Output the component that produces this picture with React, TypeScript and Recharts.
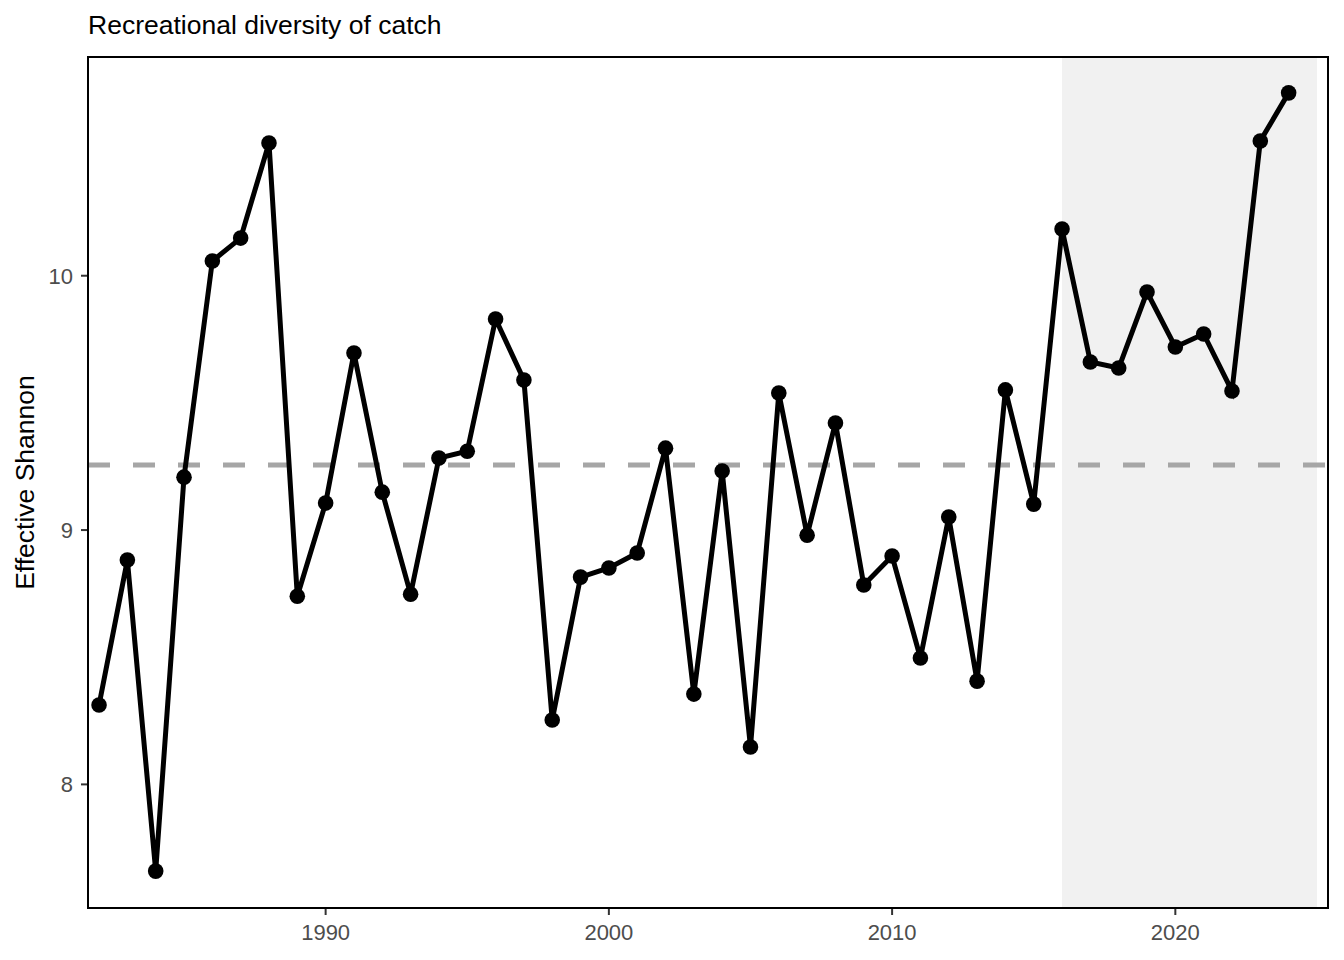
import React from 'react';
import { LineChart, Line, XAxis, YAxis, ReferenceArea, ReferenceLine, Label } from 'recharts';

const years = [
  1982, 1983, 1984, 1985, 1986, 1987, 1988, 1989, 1990, 1991, 1992, 1993, 1994, 1995,
  1996, 1997, 1998, 1999, 2000, 2001, 2002, 2003, 2004, 2005, 2006, 2007, 2008, 2009,
  2010, 2011, 2012, 2013, 2014, 2015, 2016, 2017, 2018, 2019, 2020, 2021, 2022, 2023, 2024,
];
const shannon = [
  8.312, 8.882, 7.659, 9.208, 10.058, 10.148, 10.522, 8.74, 9.106, 9.696, 9.149, 8.748, 9.283, 9.31,
  9.83, 9.59, 8.253, 8.815, 8.851, 8.91, 9.322, 8.355, 9.232, 8.147, 9.539, 8.98, 9.421, 8.784,
  8.898, 8.497, 9.051, 8.406, 9.551, 9.102, 10.184, 9.661, 9.637, 9.936, 9.72, 9.771, 9.547, 10.53, 10.719,
];
const meanShannon = 9.256;
const recentStart = 2016;
const recentEnd = 2025;
const xTicks = [1990, 2000, 2010, 2020];
const yTicks = [8, 9, 10];

const data = years.map((year, i) => ({ year, value: shannon[i] }));

const FONT = '"Liberation Sans", Arial, Helvetica, sans-serif';

export default function App() {
  return (
    <div style={{ position: 'absolute', left: 0, top: 0, width: 1344, height: 960, background: '#fff', fontFamily: FONT }}>
      <div style={{ position: 'absolute', left: 88, top: 12, fontSize: 26.5, lineHeight: 1, color: '#000' }}>
        Recreational diversity of catch
      </div>
      <LineChart width={1344} height={960} data={data} margin={{ top: 57, right: 16, bottom: 0, left: 0 }}>
        <XAxis
          dataKey="year"
          type="number"
          domain={[1981.61, 2025.39]}
          ticks={xTicks}
          allowDataOverflow
          height={52}
          axisLine={false}
          tickSize={7}
          tickMargin={9}
          tickLine={{ stroke: '#333', strokeWidth: 2 }}
          tick={{ fill: '#4D4D4D', fontSize: 22, fontFamily: FONT }}
        />
        <YAxis
          type="number"
          domain={[7.514, 10.86]}
          ticks={yTicks}
          allowDataOverflow
          width={88}
          axisLine={false}
          tickSize={7}
          tickMargin={8}
          tickLine={{ stroke: '#333', strokeWidth: 2 }}
          tick={{ fill: '#4D4D4D', fontSize: 22, fontFamily: FONT }}
        >
          <Label
            value="Effective Shannon"
            angle={-90}
            position="insideLeft"
            offset={25}
            style={{ textAnchor: 'middle', fontSize: 26.5, fill: '#000', fontFamily: FONT }}
          />
        </YAxis>
        <ReferenceArea x1={recentStart} x2={recentEnd} fill="#F1F1F1" fillOpacity={1} stroke="none" ifOverflow="hidden" />
        <ReferenceLine y={meanShannon} stroke="#A6A6A6" strokeWidth={5} strokeDasharray="22 23" />
        <Line
          type="linear"
          dataKey="value"
          stroke="#000"
          strokeWidth={5}
          dot={{ r: 7.8, fill: '#000', stroke: 'none' }}
          activeDot={false}
          isAnimationActive={false}
        />
      </LineChart>
      <div
        style={{
          position: 'absolute',
          left: 87,
          top: 56,
          width: 1242,
          height: 853,
          boxSizing: 'border-box',
          border: '2px solid #000',
          pointerEvents: 'none',
        }}
      />
    </div>
  );
}
